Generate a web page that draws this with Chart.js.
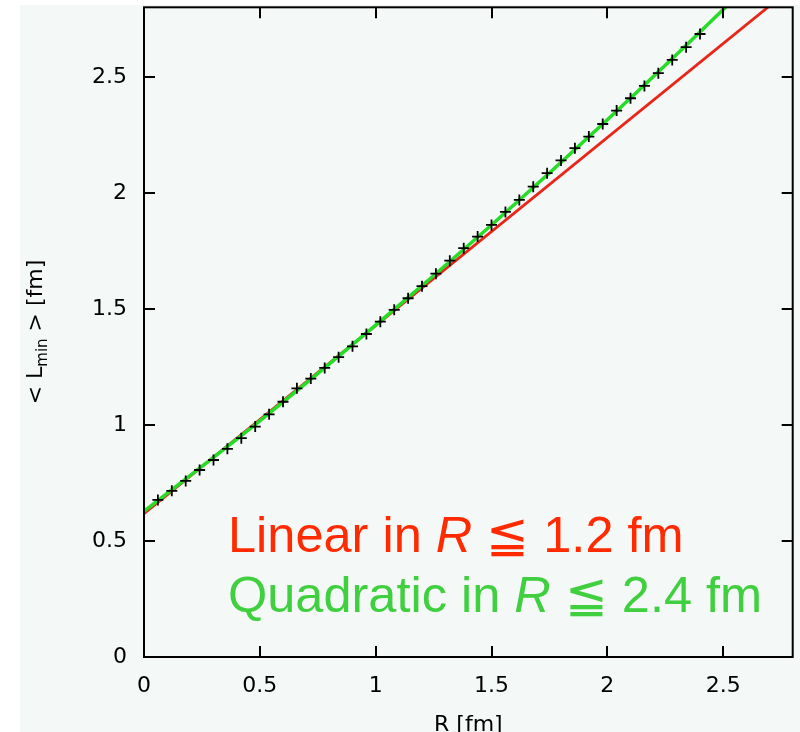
<!DOCTYPE html>
<html>
<head>
<meta charset="utf-8">
<script src="https://cdn.jsdelivr.net/npm/chart.js@4.4.1/dist/chart.umd.min.js"></script>
<style>
  html, body { margin: 0; padding: 0; background: #ffffff; }
  #wrap { width: 800px; height: 732px; }
</style>
</head>
<body>
<div id="wrap"><canvas id="lminChart" width="800" height="732"></canvas></div>
<script>
// <L_min> measured at each R (fm)
const rValues = [
  0.06, 0.12, 0.18, 0.24, 0.30, 0.36, 0.42, 0.48, 0.54, 0.60,
  0.66, 0.72, 0.78, 0.84, 0.90, 0.96, 1.02, 1.08, 1.14, 1.20,
  1.26, 1.32, 1.38, 1.44, 1.50, 1.56, 1.62, 1.68, 1.74, 1.80,
  1.86, 1.92, 1.98, 2.04, 2.10, 2.16, 2.22, 2.28, 2.34, 2.40
];
const lMinValues = [
  0.677, 0.716, 0.759, 0.806, 0.849, 0.897, 0.943, 0.993, 1.046, 1.100,
  1.158, 1.200, 1.246, 1.292, 1.339, 1.392, 1.445, 1.496, 1.546, 1.598,
  1.652, 1.708, 1.762, 1.812, 1.862, 1.918, 1.970, 2.027, 2.085, 2.140,
  2.193, 2.243, 2.297, 2.355, 2.408, 2.461, 2.516, 2.573, 2.628, 2.685
];

// linear fit (R <= 1.2 fm), end points
const linearR = [0, 2.8];
const linearL = [0.618, 2.887];

// quadratic fit (R <= 2.4 fm), sampled along the curve
const quadR = [0, 0.5, 1.0, 1.5, 2.0, 2.5, 2.6];
const quadL = [0.628, 1.018, 1.43, 1.862, 2.315, 2.79, 2.89];

// axis ticks
const tickValues = [0, 0.5, 1, 1.5, 2, 2.5];

const toPoints = (xs, ys) => xs.map((x, i) => ({ x: x, y: ys[i] }));

const AXIS_FONT = '"DejaVu Sans", Verdana, sans-serif';
const NOTE_FONT = '"Liberation Sans", Arial, Helvetica, sans-serif';
const RED = '#ff2a00';
const GREEN = '#3fcf3f';

// background, frame with mirrored inward ticks, axis titles and the fit notes
const framePlugin = {
  id: 'frame',
  beforeDraw(chart) {
    const ctx = chart.ctx;
    ctx.save();
    ctx.fillStyle = '#f4f8f6';
    ctx.fillRect(0, 0, chart.width, chart.height);
    ctx.fillStyle = '#ffffff';
    ctx.fillRect(0, 0, 20, chart.height);
    ctx.fillRect(0, 0, chart.width, 5);
    ctx.restore();
  },
  afterDraw(chart) {
    const ctx = chart.ctx;
    const a = chart.chartArea;
    const xs = chart.scales.x, ys = chart.scales.y;
    const tl = 11;
    ctx.save();
    ctx.strokeStyle = '#000';
    ctx.lineWidth = 2;
    ctx.strokeRect(a.left, a.top, a.right - a.left, a.bottom - a.top);
    ctx.beginPath();
    tickValues.forEach(v => {
      const px = Math.round(xs.getPixelForValue(v));
      ctx.moveTo(px, a.bottom); ctx.lineTo(px, a.bottom - tl);
      ctx.moveTo(px, a.top); ctx.lineTo(px, a.top + tl);
      const py = Math.round(ys.getPixelForValue(v));
      ctx.moveTo(a.left, py); ctx.lineTo(a.left + tl, py);
      ctx.moveTo(a.right, py); ctx.lineTo(a.right - tl, py);
    });
    ctx.stroke();

    // x title
    ctx.fillStyle = '#000';
    ctx.font = '22px ' + AXIS_FONT;
    ctx.textAlign = 'center';
    ctx.textBaseline = 'alphabetic';
    ctx.fillText('R [fm]', (a.left + a.right) / 2, 731);

    // y title with subscript, rotated
    ctx.translate(42, 332);
    ctx.rotate(-Math.PI / 2);
    const parts = [
      { t: '< L', f: '22px ' + AXIS_FONT, dy: 0 },
      { t: 'min', f: '15px ' + AXIS_FONT, dy: 5 },
      { t: ' > [fm]', f: '22px ' + AXIS_FONT, dy: 0 }
    ];
    let total = 0;
    parts.forEach(p => { ctx.font = p.f; p.w = ctx.measureText(p.t).width; total += p.w; });
    let cx = -total / 2;
    ctx.textAlign = 'left';
    parts.forEach(p => { ctx.font = p.f; ctx.fillText(p.t, cx, p.dy); cx += p.w; });
    ctx.restore();

    // fit notes
    drawNote(ctx, 228, 552, 50.5, RED, ['Linear in ', 'R', ' \u2266 1.2 fm']);
    drawNote(ctx, 228, 612, 50.5, GREEN, ['Quadratic in ', 'R', ' \u2266 2.4 fm']);
  }
};

function drawNote(ctx, x, y, size, color, pieces) {
  ctx.save();
  ctx.fillStyle = color;
  ctx.textBaseline = 'alphabetic';
  ctx.textAlign = 'left';
  let cx = x;
  pieces.forEach((t, i) => {
    ctx.font = (i === 1 ? 'italic ' : '') + size + 'px ' + NOTE_FONT;
    ctx.fillText(t, cx, y);
    cx += ctx.measureText(t).width;
  });
  ctx.restore();
}

const fixedTicks = s => { s.ticks = tickValues.map(v => ({ value: v })); };

new Chart(document.getElementById('lminChart'), {
  type: 'scatter',
  data: {
    datasets: [{
      label: 'data',
      data: toPoints(rValues, lMinValues),
      showLine: false,
      pointStyle: 'cross',
      pointRadius: 5.5,
      pointBorderColor: '#000',
      pointBorderWidth: 1.8,
      pointBackgroundColor: '#000'
    }, {
      label: 'quadratic',
      data: toPoints(quadR, quadL),
      showLine: true,
      borderColor: '#27dc27',
      borderWidth: 3.5,
      pointRadius: 0,
      cubicInterpolationMode: 'monotone'
    }, {
      label: 'linear',
      data: toPoints(linearR, linearL),
      showLine: true,
      borderColor: '#e8261a',
      borderWidth: 2.8,
      pointRadius: 0
    }]
  },
  options: {
    responsive: false,
    animation: false,
    devicePixelRatio: 1,
    layout: { padding: { top: 7, right: 7, left: 0, bottom: 0 } },
    plugins: { legend: { display: false }, tooltip: { enabled: false } },
    scales: {
      x: {
        type: 'linear', min: 0, max: 2.8,
        afterBuildTicks: fixedTicks,
        afterFit: s => { s.height = 75; s.paddingLeft = 0; s.paddingRight = 0; },
        grid: { display: false, drawTicks: false },
        border: { display: false },
        ticks: { color: '#000', font: { size: 22, family: AXIS_FONT }, padding: 16, maxRotation: 0, callback: v => String(v) }
      },
      y: {
        type: 'linear', min: 0, max: 2.8,
        afterBuildTicks: fixedTicks,
        afterFit: s => { s.width = 144; s.paddingTop = 0; s.paddingBottom = 0; },
        grid: { display: false, drawTicks: false },
        border: { display: false },
        ticks: { color: '#000', font: { size: 22, family: AXIS_FONT }, padding: 17, callback: v => String(v) }
      }
    }
  },
  plugins: [framePlugin]
});
</script>
</body>
</html>
